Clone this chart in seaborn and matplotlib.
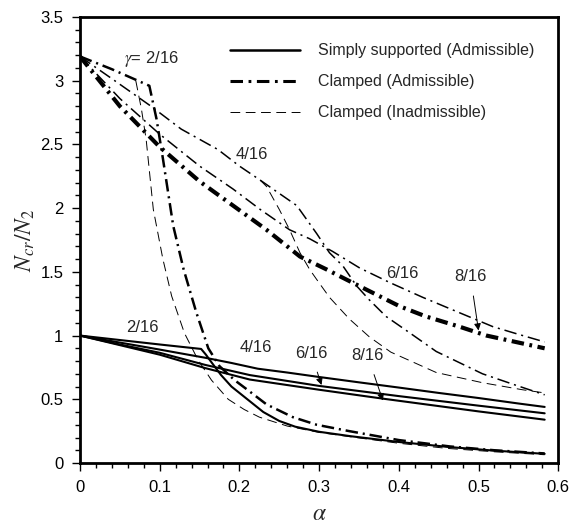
import numpy as np
import pandas as pd
import matplotlib
matplotlib.use("Agg")
import matplotlib.pyplot as plt
from matplotlib.lines import Line2D
from matplotlib.ticker import MultipleLocator
import seaborn as sns

# ---------------- data ----------------
# Simply supported (admissible), solid
ss_2_x = [0, 0.05, 0.1, 0.152, 0.158, 0.165, 0.177, 0.19, 0.21, 0.23, 0.25, 0.27, 0.30, 0.34, 0.40, 0.464, 0.52, 0.583]
ss_2_y = [1.0, 0.965, 0.93, 0.895, 0.85, 0.79, 0.69, 0.60, 0.50, 0.40, 0.33, 0.285, 0.245, 0.21, 0.165, 0.125, 0.097, 0.072]
ss_4_x = [0, 0.05, 0.1, 0.157, 0.19, 0.223, 0.26, 0.30, 0.35, 0.40, 0.45, 0.50, 0.55, 0.583]
ss_4_y = [1.0, 0.945, 0.89, 0.826, 0.785, 0.74, 0.71, 0.675, 0.633, 0.592, 0.55, 0.51, 0.467, 0.44]
ss_6_x = [0, 0.05, 0.1, 0.157, 0.213, 0.30, 0.40, 0.50, 0.583]
ss_6_y = [1.0, 0.93, 0.865, 0.77, 0.69, 0.605, 0.525, 0.45, 0.39]
ss_8_x = [0, 0.05, 0.1, 0.157, 0.213, 0.30, 0.38, 0.50, 0.583]
ss_8_y = [1.0, 0.925, 0.85, 0.745, 0.655, 0.575, 0.505, 0.405, 0.34]

# Clamped (admissible), dash-dot
cl_2_x = [0, 0.04, 0.087, 0.0915, 0.096, 0.104, 0.117, 0.13, 0.146, 0.161, 0.175, 0.194, 0.21, 0.234, 0.267, 0.297, 0.338, 0.40, 0.464, 0.52, 0.583]
cl_2_y = [3.19, 3.09, 2.96, 2.83, 2.70, 2.39, 1.86, 1.52, 1.18, 0.90, 0.76, 0.65, 0.575, 0.46, 0.36, 0.30, 0.25, 0.18, 0.13, 0.10, 0.075]
cl_4_x = [0, 0.039, 0.089, 0.127, 0.173, 0.20, 0.226, 0.242, 0.272, 0.297, 0.313, 0.33, 0.347, 0.363, 0.384, 0.414, 0.447, 0.505, 0.547, 0.583]
cl_4_y = [3.19, 3.02, 2.80, 2.62, 2.46, 2.33, 2.22, 2.15, 2.02, 1.80, 1.65, 1.545, 1.39, 1.28, 1.15, 1.02, 0.875, 0.70, 0.61, 0.535]
cl_6_x = [0, 0.05, 0.10, 0.15, 0.192, 0.226, 0.263, 0.288, 0.317, 0.351, 0.389, 0.43, 0.472, 0.518, 0.55, 0.583]
cl_6_y = [3.19, 2.86, 2.58, 2.33, 2.15, 1.99, 1.83, 1.76, 1.66, 1.53, 1.415, 1.30, 1.19, 1.07, 1.01, 0.95]
cl_8_x = [0, 0.05, 0.10, 0.15, 0.192, 0.234, 0.276, 0.309, 0.334, 0.401, 0.434, 0.476, 0.51, 0.583]
cl_8_y = [3.19, 2.80, 2.48, 2.21, 2.02, 1.83, 1.62, 1.52, 1.44, 1.23, 1.15, 1.07, 1.00, 0.90]

# Clamped (inadmissible), dashed
ci_2_x = [0.07, 0.077, 0.083, 0.092, 0.104, 0.115, 0.131, 0.148, 0.165, 0.186, 0.206, 0.225, 0.26, 0.30, 0.338, 0.40, 0.46, 0.52, 0.583]
ci_2_y = [3.0, 2.78, 2.54, 1.99, 1.60, 1.31, 1.02, 0.81, 0.65, 0.50, 0.42, 0.36, 0.29, 0.24, 0.207, 0.155, 0.115, 0.088, 0.065]
ci_4_x = [0.226, 0.234, 0.25, 0.263, 0.276, 0.288, 0.297, 0.313, 0.338, 0.363, 0.39, 0.447, 0.505, 0.555, 0.583]
ci_4_y = [2.22, 2.17, 1.99, 1.83, 1.65, 1.52, 1.44, 1.30, 1.13, 0.99, 0.87, 0.71, 0.63, 0.575, 0.55]

legend_labels = ["Simply supported (Admissible)", "Clamped (Admissible)", "Clamped (Inadmissible)"]
x_ticks = [0, 0.1, 0.2, 0.3, 0.4, 0.5, 0.6]
y_ticks = [0, 0.5, 1, 1.5, 2, 2.5, 3, 3.5]

# ---------------- style ----------------
sns.set_style("ticks")
plt.rcParams["font.family"] = ["Liberation Sans", "DejaVu Sans"]
plt.rcParams["mathtext.fontset"] = "stix"
plt.rcParams["lines.scale_dashes"] = False

fig = plt.figure(figsize=(5.73, 5.30), dpi=100)
ax = fig.add_axes([0.1396, 0.1264, 0.8346, 0.8416])

DASHDOT = (0, (9, 3.5, 1.5, 3.5))
DASHDOT_THICK = (0, (9, 4, 2, 4))
DASHED = (0, (7, 4))

def draw(xs, ys, lw, ls):
    df = pd.DataFrame({"a": xs, "n": ys})
    sns.lineplot(data=df, x="a", y="n", ax=ax, color="black", lw=lw,
                 linestyle=ls, sort=False, estimator=None)

# simply supported
draw(ss_2_x, ss_2_y, 1.5, "-")
draw(ss_4_x, ss_4_y, 1.5, "-")
draw(ss_6_x, ss_6_y, 1.5, "-")
draw(ss_8_x, ss_8_y, 1.5, "-")
# clamped admissible
draw(cl_2_x, cl_2_y, 1.8, DASHDOT)
draw(cl_4_x, cl_4_y, 1.1, DASHDOT)
draw(cl_6_x, cl_6_y, 1.1, DASHDOT)
draw(cl_8_x, cl_8_y, 3.0, DASHDOT_THICK)
# clamped inadmissible
draw(ci_2_x, ci_2_y, 0.7, DASHED)
draw(ci_4_x, ci_4_y, 0.7, DASHED)

# annotations
fs = 12
ax.text(0.09, 3.17, r"$\gamma$= 2/16", fontsize=fs, ha="center", va="center")
ax.text(0.215, 2.42, "4/16", fontsize=fs, ha="center", va="center")
ax.text(0.405, 1.49, "6/16", fontsize=fs, ha="center", va="center")
ax.annotate("8/16", xy=(0.50, 1.04), xytext=(0.49, 1.46), fontsize=fs, ha="center", va="center",
            arrowprops=dict(arrowstyle="-|>", color="black", lw=0.7, shrinkA=6, shrinkB=0,
                            mutation_scale=10))
ax.text(0.078, 1.06, "2/16", fontsize=fs, ha="center", va="center")
ax.text(0.221, 0.905, "4/16", fontsize=fs, ha="center", va="center")
ax.annotate("6/16", xy=(0.303, 0.612), xytext=(0.29, 0.86), fontsize=fs, ha="center", va="center",
            arrowprops=dict(arrowstyle="-|>", color="black", lw=0.7, shrinkA=6, shrinkB=0,
                            mutation_scale=10))
ax.annotate("8/16", xy=(0.38, 0.49), xytext=(0.361, 0.84), fontsize=fs, ha="center", va="center",
            arrowprops=dict(arrowstyle="-|>", color="black", lw=0.7, shrinkA=6, shrinkB=0,
                            mutation_scale=10))

# legend
handles = [Line2D([], [], color="black", lw=1.8, linestyle="-"),
           Line2D([], [], color="black", lw=2.2, linestyle=DASHDOT_THICK),
           Line2D([], [], color="black", lw=0.7, linestyle=DASHED)]
ax.legend(handles, legend_labels, loc="upper left", bbox_to_anchor=(0.30, 0.955),
          frameon=False, fontsize=11.5, handlelength=4.4, handletextpad=1.1,
          labelspacing=1.0, borderaxespad=0)

# axes
ax.set_xlim(0, 0.6)
ax.set_ylim(0, 3.5)
ax.set_xticks(x_ticks)
ax.set_xticklabels([f"{t:g}" for t in x_ticks])
ax.set_yticks(y_ticks)
ax.set_yticklabels([f"{t:g}" for t in y_ticks])
ax.xaxis.set_minor_locator(MultipleLocator(0.02))
ax.yaxis.set_minor_locator(MultipleLocator(0.1))
ax.tick_params(which="major", direction="out", length=6, width=1, labelsize=12, color="black",
               labelcolor="black", pad=6)
ax.tick_params(which="minor", direction="out", length=3.5, width=1, color="black")
ax.tick_params(top=False, right=False)
for s in ax.spines.values():
    s.set_visible(True)
    s.set_linewidth(2.0)
    s.set_color("black")
ax.set_xlabel(r"$\alpha$", fontsize=17, labelpad=6)
ax.set_ylabel(r"$N_{cr}/N_2$", fontsize=17, labelpad=2)

fig.savefig("out.png", dpi=100, facecolor="white")
